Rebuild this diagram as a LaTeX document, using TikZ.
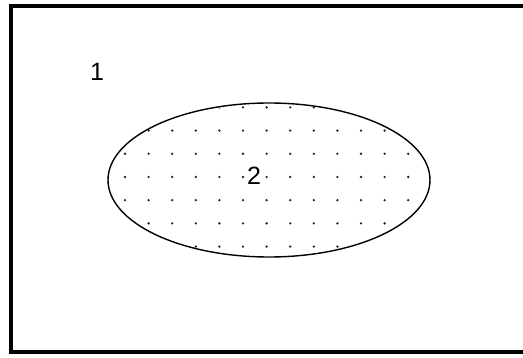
\documentclass[tikz,border=0pt]{standalone}
\usepackage{fontspec}
\setmainfont{Liberation Sans}
\begin{document}
\begin{tikzpicture}[x=1pt, y=-1pt,
  frame/.style={draw=black, line width=4pt},
  region/.style={draw=black, line width=1.4pt},
  dotmark/.style={fill=black!85},
  lab/.style={font=\fontsize{25}{25}\selectfont, inner sep=0pt},
]
\useasboundingbox (0,0) rectangle (523,358);
% ── outer set ─────────────────────────────────────────────────────────────
\draw[frame] (10.5,6.5) rectangle (560,352);
\node[lab] (one) at (97,72) {1};

% ── inner set ─────────────────────────────────────────────────────────────
\coordinate (c) at (269,180);
\begin{scope}
  \clip (c) ellipse [x radius=160pt, y radius=76pt];
  \foreach \i in {0,...,13} \foreach \j in {-3,...,3}
    \fill[dotmark] (125+23.6*\i, 177+23.2*\j) circle (1.3pt);
\end{scope}
\draw[region] (c) ellipse [x radius=161pt, y radius=77pt];
\node[lab] (two) at (254,176) {2};
\end{tikzpicture}
\end{document}
